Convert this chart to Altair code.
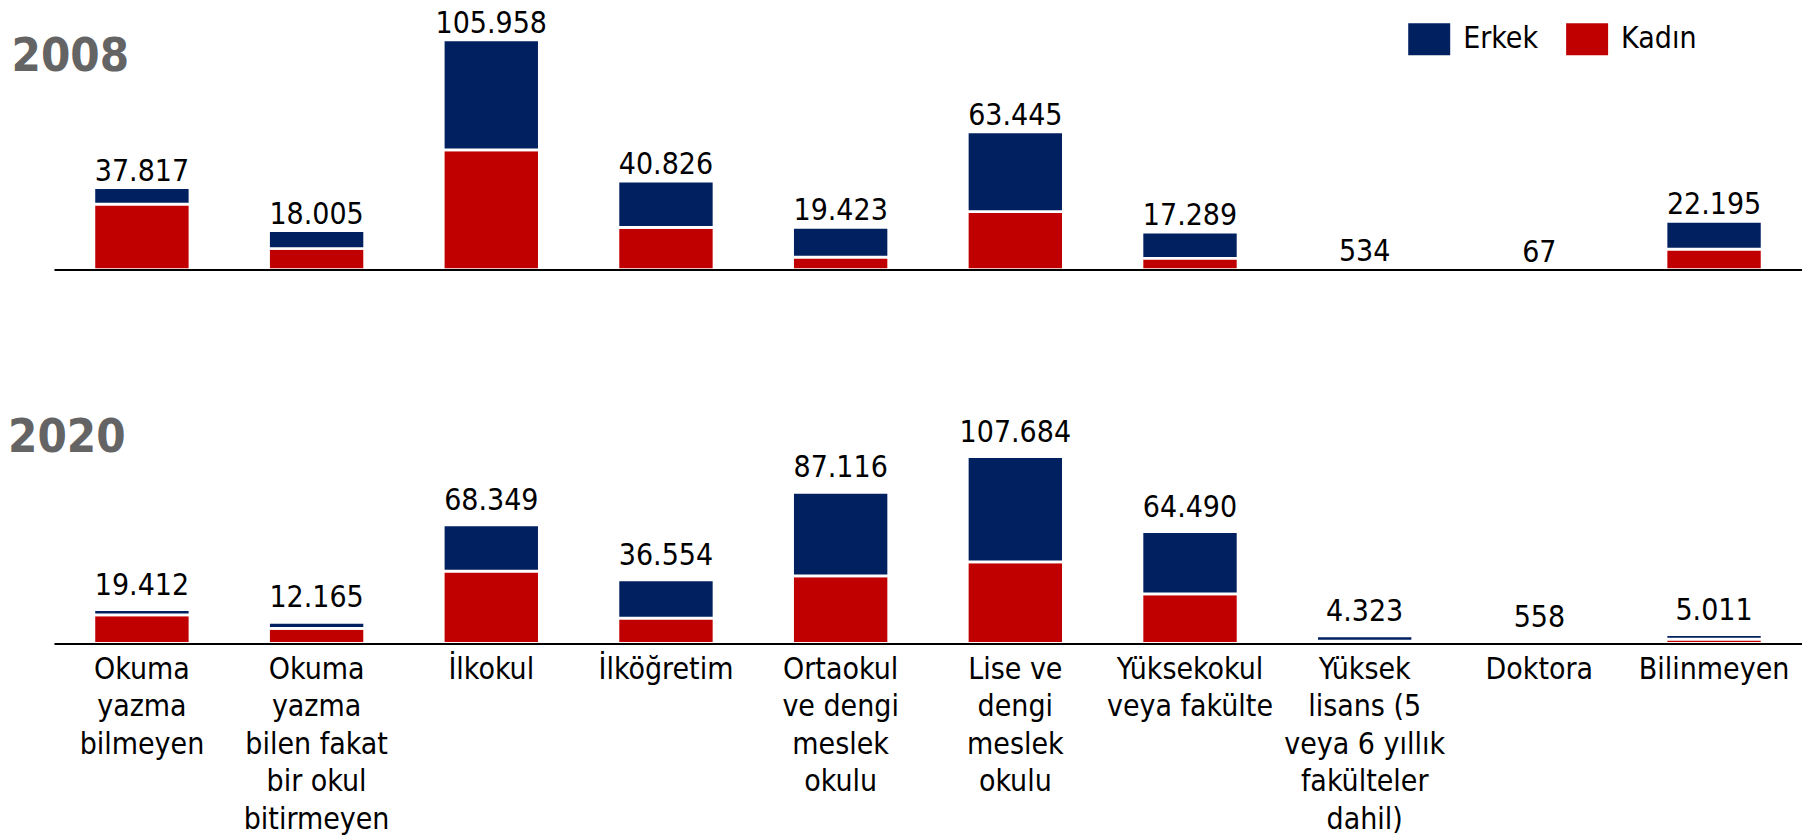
import altair as alt
import pandas as pd

FONT = "DejaVu Sans Condensed, DejaVu Sans, Liberation Sans, sans-serif"

categories = [
    "Okuma yazma bilmeyen",
    "Okuma yazma bilen fakat bir okul bitirmeyen",
    "İlkokul",
    "İlköğretim",
    "Ortaokul ve dengi meslek okulu",
    "Lise ve dengi meslek okulu",
    "Yüksekokul veya fakülte",
    "Yüksek lisans (5 veya 6 yıllık fakülteler dahil)",
    "Doktora",
    "Bilinmeyen",
]
category_lines = [
    ["Okuma", "yazma", "bilmeyen"],
    ["Okuma", "yazma", "bilen fakat", "bir okul", "bitirmeyen"],
    ["İlkokul"],
    ["İlköğretim"],
    ["Ortaokul", "ve dengi", "meslek", "okulu"],
    ["Lise ve", "dengi", "meslek", "okulu"],
    ["Yüksekokul", "veya fakülte"],
    ["Yüksek", "lisans (5", "veya 6 yıllık", "fakülteler", "dahil)"],
    ["Doktora"],
    ["Bilinmeyen"],
]

series = ["Erkek", "Kadın"]
colors = ["#002060", "#C00000"]

kadin_2008 = [30215, 9720, 55180, 19490, 5710, 26690, 5230, 110, 12, 9400]
erkek_2008 = [7602, 8285, 50778, 21336, 13713, 36755, 12059, 424, 55, 12795]
kadin_2020 = [16480, 8620, 41720, 14520, 38920, 47050, 28510, 1310, 130, 2410]
erkek_2020 = [2932, 3545, 26629, 22034, 48196, 60634, 35980, 3013, 428, 2601]


def make_df(kadin, erkek):
    rows = []
    for i, c in enumerate(categories):
        rows.append({"kategori": c, "cinsiyet": "Kadın", "deger": kadin[i], "sira": 0})
        rows.append({"kategori": c, "cinsiyet": "Erkek", "deger": erkek[i], "sira": 1})
    return pd.DataFrame(rows)


def js_str(s):
    return "'" + s.replace("'", "\\'") + "'"


label_map = "{" + ", ".join(
    js_str(c) + ": [" + ", ".join(js_str(l) for l in lines) + "]"
    for c, lines in zip(categories, category_lines)
) + "}"

legend = alt.Legend(
    orient="none",
    legendX=1355,
    legendY=8,
    direction="horizontal",
    title=None,
    symbolType="M-1,-0.76L1,-0.76L1,0.76L-1,0.76Z",
    symbolSize=1764,
    symbolStrokeWidth=0,
    symbolOpacity=1,
    labelFont=FONT,
    labelFontSize=30,
    labelColor="black",
    labelOffset=13,
    columnPadding=28,
    padding=0,
)

W = 1749
TITLE_SIZE = 47


def panel(year, kadin, erkek, height, px_per_unit, show_labels, label_dy, title_top, title_dx):
    df = make_df(kadin, erkek)
    dmax = height / px_per_unit
    if show_labels:
        axis = alt.Axis(
            title=None, ticks=False, domain=True, domainColor="black", domainWidth=2,
            labelAngle=0, labelFont=FONT, labelFontSize=30, labelColor="black",
            labelLineHeight=37.5, labelPadding=11, labelExpr=label_map + "[datum.value]",
            zindex=1, labelOverlap=False, labelBaseline="top",
        )
    else:
        axis = alt.Axis(title=None, ticks=False, labels=False, domain=True,
                        domainColor="black", domainWidth=2, zindex=1)
    x = alt.X("kategori:N", sort=categories,
              scale=alt.Scale(paddingInner=0.45, paddingOuter=0.2285), axis=axis)
    y_scale = alt.Scale(domain=[0, dmax], nice=False, zero=True)
    bars = alt.Chart(df).mark_bar(stroke="white", strokeWidth=2.7).encode(
        x=x,
        y=alt.Y("deger:Q", stack="zero", scale=y_scale, axis=None),
        color=alt.Color("cinsiyet:N", scale=alt.Scale(domain=series, range=colors), legend=legend),
        order=alt.Order("sira:Q"),
    )
    totals = alt.Chart(df).transform_aggregate(
        toplam="sum(deger)", groupby=["kategori"]
    ).transform_calculate(
        etiket="replace(format(datum.toplam, ','), ',', '.')"
    ).mark_text(
        baseline="alphabetic", dy=label_dy, font=FONT, fontSize=30, color="black"
    ).encode(
        x=alt.X("kategori:N", sort=categories),
        y=alt.Y("toplam:Q", scale=y_scale, axis=None),
        text="etiket:N",
    )
    return alt.layer(bars, totals).properties(
        width=W, height=height,
        title=alt.TitleParams(
            text=year, anchor="start", frame="group", orient="top",
            offset=-(title_top + TITLE_SIZE), dx=title_dx, font=FONT,
            fontSize=TITLE_SIZE, fontWeight="bold", color="#646464", baseline="top",
        ),
    )


p2008 = panel("2008", kadin_2008, erkek_2008, 259.5, 0.00217, False, -7, 25, -42.5)
p2020 = panel("2020", kadin_2020, erkek_2020, 232, 0.001735, True, -15, 3.5, -46)

chart = alt.vconcat(p2008, p2020, spacing=140.5).properties(
    padding={"left": 0, "top": 0, "right": 0, "bottom": 0},
    background="white",
).configure_view(stroke=None)

chart.save("out.html", embed_options={"renderer": "svg", "actions": False})
